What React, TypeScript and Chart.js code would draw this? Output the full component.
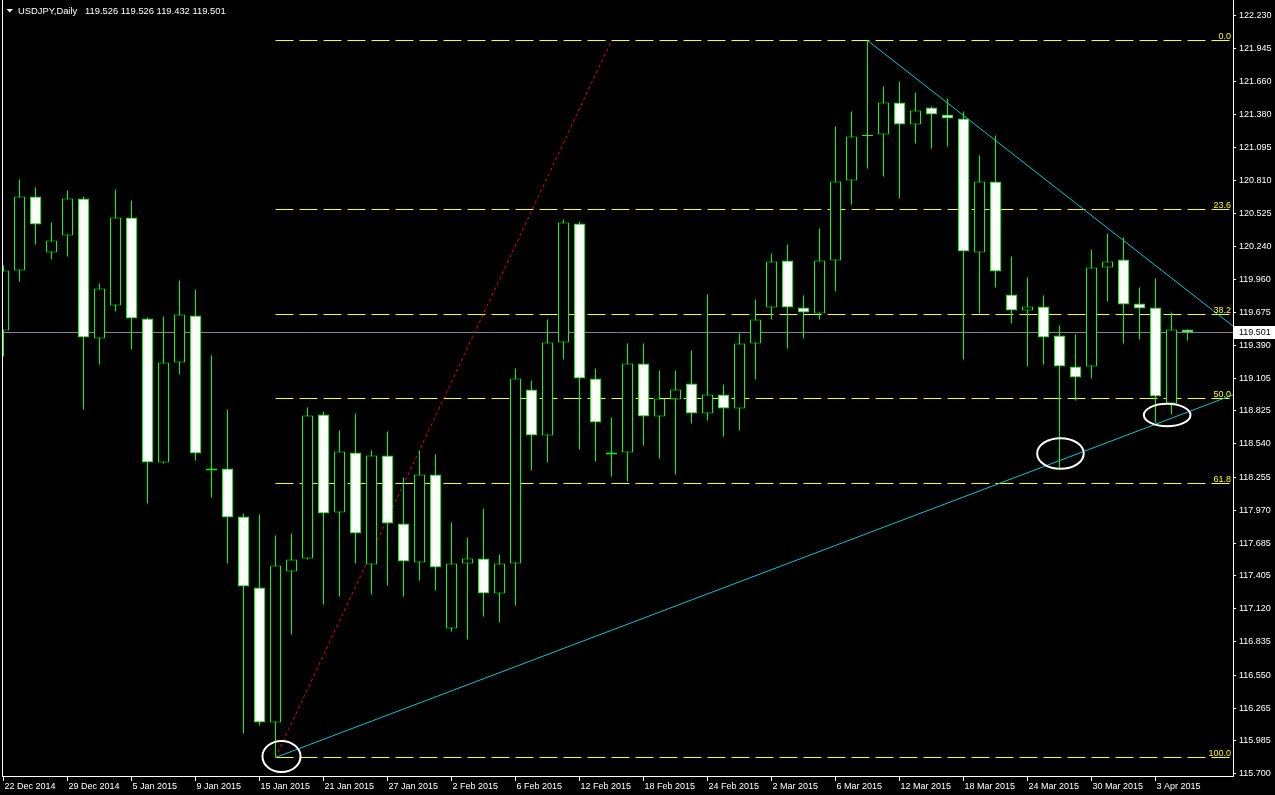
import { useEffect, useRef } from "react";
import { Chart, registerables } from "chart.js";

Chart.register(...registerables);

// ---------- DATA ----------
const symbol = "USDJPY";
const period = "Daily";

const dates = [
  "22 Dec 2014","23 Dec 2014","24 Dec 2014","26 Dec 2014","29 Dec 2014","30 Dec 2014","31 Dec 2014",
  "2 Jan 2015","5 Jan 2015","6 Jan 2015","7 Jan 2015","8 Jan 2015","9 Jan 2015","12 Jan 2015","13 Jan 2015",
  "14 Jan 2015","15 Jan 2015","16 Jan 2015","19 Jan 2015","20 Jan 2015","21 Jan 2015","22 Jan 2015","23 Jan 2015",
  "26 Jan 2015","27 Jan 2015","28 Jan 2015","29 Jan 2015","30 Jan 2015",
  "2 Feb 2015","3 Feb 2015","4 Feb 2015","5 Feb 2015","6 Feb 2015","9 Feb 2015","10 Feb 2015","11 Feb 2015",
  "12 Feb 2015","13 Feb 2015","16 Feb 2015","17 Feb 2015","18 Feb 2015","19 Feb 2015","20 Feb 2015","23 Feb 2015",
  "24 Feb 2015","25 Feb 2015","26 Feb 2015","27 Feb 2015",
  "2 Mar 2015","3 Mar 2015","4 Mar 2015","5 Mar 2015","6 Mar 2015","9 Mar 2015","10 Mar 2015","11 Mar 2015",
  "12 Mar 2015","13 Mar 2015","16 Mar 2015","17 Mar 2015","18 Mar 2015","19 Mar 2015","20 Mar 2015","23 Mar 2015",
  "24 Mar 2015","25 Mar 2015","26 Mar 2015","27 Mar 2015","30 Mar 2015","31 Mar 2015",
  "1 Apr 2015","2 Apr 2015","3 Apr 2015","6 Apr 2015","7 Apr 2015",
];

const opens = [
  119.517,120.034,120.671,120.189,120.335,120.654,119.448,119.733,120.490,119.621,
  118.381,119.242,119.646,118.312,118.329,117.916,117.304,116.142,117.442,117.554,
  118.794,117.950,118.467,117.502,118.441,117.855,117.519,118.277,116.951,117.511,
  117.554,117.252,117.511,119.009,118.613,119.414,120.439,119.104,118.449,118.467,
  119.233,118.777,118.923,119.061,118.802,118.966,118.846,119.405,119.715,120.120,
  119.715,119.664,120.120,120.809,121.192,121.205,121.481,121.291,121.438,121.378,
  121.343,120.189,120.801,119.827,119.690,119.724,119.474,119.207,119.207,120.060,
  120.129,119.750,119.715,118.889,119.526,
];
const highs = [
  120.077,120.818,120.749,120.447,120.723,120.671,119.922,120.732,120.637,119.629,
  119.638,119.948,119.870,119.302,118.837,117.941,117.933,117.752,117.769,118.854,
  118.820,118.656,118.802,118.484,118.648,118.251,118.484,118.449,117.864,117.735,
  117.984,117.588,119.190,119.087,119.612,120.473,120.456,119.190,118.768,119.405,
  119.405,119.173,119.173,119.345,119.827,119.052,119.492,119.784,120.180,120.258,
  119.819,120.396,121.274,121.403,122.015,121.619,121.662,121.567,121.446,121.515,
  121.403,121.024,121.197,120.155,119.974,119.819,119.560,119.483,120.215,120.353,
  120.318,119.888,119.965,119.672,119.526,
];
const lows = [
  119.293,119.939,120.258,120.129,120.155,118.837,119.225,119.681,119.354,118.027,
  118.372,119.138,118.398,118.079,117.511,116.047,116.116,115.840,116.899,117.545,
  117.158,117.227,117.511,117.244,117.321,117.227,117.364,117.278,116.925,116.856,
  117.054,117.003,117.149,118.312,118.381,119.268,118.492,118.389,118.260,118.217,
  118.527,118.415,118.277,118.716,118.742,118.604,118.656,119.095,119.612,119.362,
  119.448,119.612,119.853,120.602,120.912,120.844,120.654,121.128,121.085,121.102,
  119.268,119.664,119.888,119.578,119.207,119.225,118.320,118.915,119.104,119.767,
  119.405,119.440,118.725,118.794,119.432,
];
const closes = [
  120.034,120.671,120.430,120.292,120.654,119.457,119.879,120.490,119.621,118.381,
  119.242,119.655,118.458,118.329,117.907,117.313,116.142,117.494,117.545,118.785,
  117.941,118.475,117.769,118.441,117.855,117.528,118.277,117.476,117.511,117.554,
  117.252,117.511,119.104,118.613,119.414,120.447,119.104,118.725,118.467,119.233,
  118.777,118.932,119.009,118.802,118.966,118.846,119.405,119.612,120.112,119.715,
  119.672,120.120,120.801,121.188,121.201,121.481,121.291,121.412,121.378,121.343,
  120.198,120.801,120.025,119.690,119.724,119.457,119.207,119.113,120.060,120.112,
  119.741,119.707,118.949,119.526,119.501,
];

const priceTickLabels = [
  "122.230","121.945","121.660","121.380","121.095","120.810","120.525","120.240",
  "119.960","119.675","119.390","119.105","118.825","118.540","118.255","117.970",
  "117.685","117.405","117.120","116.835","116.550","116.265","115.985","115.700",
];
const dateLabelEvery = 4;

// Fibonacci retracement (anchors: index, price)
const fibLevels = [0, 23.6, 38.2, 50, 61.8, 100];
const fibLowIndex = 17;
const fibLow = 115.84;
const fibHighIndex = 38;
const fibHigh = 122.015;

// trend lines: [index, price] anchor pairs (rays to the right)
const upperTrend = [[54, 122.015], [70, 120.292]];
const lowerTrend = [[17, 115.84], [73, 118.762]];

// highlight ellipses: [centerIndex, centerPrice, radiusIndex, radiusPrice]
const ellipses = [
  [17.375, 115.849, 1.19, 0.1335],
  [66.06, 118.458, 1.456, 0.132],
  [72.73, 118.79, 1.456, 0.0965],
];

// ---------- STYLE ----------
const FONT = "'Liberation Sans', Arial, sans-serif";
const X_MIN = -0.09375;
const X_MAX = 76.84375;
const Y_MAX = 122.3635;
const Y_MIN = 115.6807;

function rayEnd(a: number[], b: number[], xEnd: number) {
  const slope = (b[1] - a[1]) / (b[0] - a[0]);
  return { x: xEnd, y: a[1] + slope * (xEnd - a[0]) };
}

const crisp = (v: number) => Math.floor(v) + 0.5;

const overlayPlugin = {
  id: "mtOverlay",
  beforeDraw(chart: any) {
    const { ctx, width, height } = chart;
    ctx.save();
    ctx.fillStyle = "#000000";
    ctx.fillRect(0, 0, width, height);
    ctx.restore();
  },
  beforeDatasetsDraw(chart: any) {
    const { ctx, chartArea: a, scales } = chart;
    const x = scales.x, y = scales.y;
    ctx.save();
    // bid line
    const by = crisp(y.getPixelForValue(closes[closes.length - 1]));
    ctx.strokeStyle = "#778899";
    ctx.lineWidth = 1;
    ctx.beginPath();
    ctx.moveTo(a.left, by);
    ctx.lineTo(a.right, by);
    ctx.stroke();
    // fib levels
    const range = fibHigh - fibLow;
    const x0 = x.getPixelForValue(fibLowIndex);
    ctx.strokeStyle = "#ffff00";
    ctx.setLineDash([18, 6]);
    for (const lvl of fibLevels) {
      const py = crisp(y.getPixelForValue(fibHigh - (range * lvl) / 100));
      ctx.beginPath();
      ctx.moveTo(x0, py);
      ctx.lineTo(a.right - 3, py);
      ctx.stroke();
    }
    ctx.setLineDash([]);
    ctx.restore();
  },
  afterDatasetsDraw(chart: any) {
    const { ctx, chartArea: a, scales } = chart;
    const x = scales.x, y = scales.y;
    ctx.save();
    // left frame line
    ctx.fillStyle = "#ffffff";
    ctx.fillRect(a.left, 0, 1, a.bottom + 1);
    // ellipses
    ctx.strokeStyle = "#ffffff";
    ctx.lineWidth = 2;
    for (const [ci, cp, ri, rp] of ellipses) {
      const cx = x.getPixelForValue(ci);
      const cy = y.getPixelForValue(cp);
      const rx = Math.abs(x.getPixelForValue(ci + ri) - cx);
      const ry = Math.abs(y.getPixelForValue(cp + rp) - cy);
      ctx.beginPath();
      ctx.ellipse(cx, cy, rx, ry, 0, 0, Math.PI * 2);
      ctx.stroke();
    }
    // fib labels
    const range = fibHigh - fibLow;
    ctx.font = `9px ${FONT}`;
    ctx.fillStyle = "#ffff00";
    ctx.textAlign = "right";
    ctx.textBaseline = "alphabetic";
    for (const lvl of fibLevels) {
      const py = crisp(y.getPixelForValue(fibHigh - (range * lvl) / 100));
      ctx.fillText(lvl.toFixed(1), a.right - 2, py - 2);
    }
    // header
    const n = closes.length - 1;
    ctx.fillStyle = "#ffffff";
    ctx.beginPath();
    ctx.moveTo(6.5, 9);
    ctx.lineTo(13, 9);
    ctx.lineTo(9.75, 12.5);
    ctx.closePath();
    ctx.fill();
    ctx.textAlign = "left";
    ctx.textBaseline = "middle";
    ctx.font = `9.4px ${FONT}`;
    ctx.fillText(
      `${symbol},${period}   ${opens[n].toFixed(3)} ${highs[n].toFixed(3)} ${lows[n].toFixed(3)} ${closes[n].toFixed(3)}`,
      18,
      11
    );
    // bid price box
    ctx.font = `9px ${FONT}`;
    const by = crisp(y.getPixelForValue(closes[n]));
    ctx.fillStyle = "#ffffff";
    ctx.fillRect(a.right + 1, by - 6.5, chart.width - a.right - 1, 13);
    ctx.fillStyle = "#000000";
    ctx.fillText(closes[n].toFixed(3), a.right + 6, by + 0.5);
    ctx.restore();
  },
};

export default function App() {
  const ref = useRef<HTMLCanvasElement>(null);

  useEffect(() => {
    const canvas = ref.current;
    if (!canvas) return;
    const idx = dates.map((_, i) => i);
    const bodyData = idx.map((i) => ({ x: i, y: [opens[i], closes[i]] }));
    const wickData = idx.map((i) => ({ x: i, y: [lows[i], highs[i]] }));
    const bodyFill = idx.map((i) => (closes[i] >= opens[i] ? "#000000" : "#ffffff"));

    const upper = [{ x: upperTrend[0][0], y: upperTrend[0][1] }, rayEnd(upperTrend[0], upperTrend[1], X_MAX)];
    const lower = [{ x: lowerTrend[0][0], y: lowerTrend[0][1] }, rayEnd(lowerTrend[0], lowerTrend[1], X_MAX)];
    const fibDiag = [
      { x: fibLowIndex, y: fibLow },
      { x: fibHighIndex, y: fibHigh },
    ];

    const chart = new Chart(canvas, {
      type: "bar",
      data: {
        datasets: [
          {
            type: "bar",
            label: "body",
            data: bodyData as any,
            backgroundColor: bodyFill,
            borderColor: "#00ff00",
            borderWidth: 1,
            borderSkipped: false,
            barThickness: 11,
            grouped: false,
            inflateAmount: 0,
            order: 0,
          } as any,
          {
            type: "bar",
            label: "wick",
            data: wickData as any,
            backgroundColor: "#00ff00",
            borderWidth: 0,
            barThickness: 1,
            grouped: false,
            inflateAmount: 0,
            order: 1,
          } as any,
          {
            type: "line",
            label: "fibDiag",
            data: fibDiag,
            borderColor: "#ff0000",
            borderWidth: 1,
            borderDash: [3, 3],
            pointRadius: 0,
            fill: false,
            order: 2,
          } as any,
          {
            type: "line",
            label: "upper",
            data: upper,
            borderColor: "#00c8d8",
            borderWidth: 1,
            pointRadius: 0,
            fill: false,
            order: 3,
          } as any,
          {
            type: "line",
            label: "lower",
            data: lower,
            borderColor: "#00c8d8",
            borderWidth: 1,
            pointRadius: 0,
            fill: false,
            order: 4,
          } as any,
        ],
      },
      options: {
        animation: false,
        responsive: false,
        maintainAspectRatio: false,
        layout: { padding: { left: 2, top: 0, right: 0, bottom: 0 } },
        plugins: { legend: { display: false }, tooltip: { enabled: false } },
        scales: {
          x: {
            type: "linear",
            min: X_MIN,
            max: X_MAX,
            offset: false,
            grid: { display: true, offset: false, drawOnChartArea: false, drawTicks: true, tickLength: 5, color: "#ffffff" },
            border: { display: true, color: "#ffffff" },
            ticks: {
              color: "#ffffff",
              font: { family: FONT, size: 9 },
              align: "start",
              labelOffset: 1,
              padding: 0,
              autoSkip: false,
              maxRotation: 0,
              minRotation: 0,
              callback: (v: any) => dates[Math.round(Number(v))] ?? "",
            },
            afterBuildTicks: (s: any) => {
              s.ticks = dates
                .map((_, i) => i)
                .filter((i) => i % dateLabelEvery === 0)
                .map((v) => ({ value: v }));
            },
            afterFit: (s: any) => {
              s.height = 19;
              s.paddingLeft = 0;
              s.paddingRight = 0;
            },
          },
          y: {
            type: "linear",
            position: "right",
            min: Y_MIN,
            max: Y_MAX,
            grid: { display: true, drawOnChartArea: false, drawTicks: true, tickLength: 3, color: "#ffffff" },
            border: { display: true, color: "#ffffff" },
            ticks: {
              color: "#ffffff",
              font: { family: FONT, size: 9 },
              padding: 3,
              autoSkip: false,
              callback: (v: any) => Number(v).toFixed(3),
            },
            afterBuildTicks: (s: any) => {
              s.ticks = priceTickLabels.map((t) => ({ value: parseFloat(t) }));
            },
            afterFit: (s: any) => {
              s.width = 42;
              s.paddingTop = 0;
              s.paddingBottom = 0;
            },
          },
        },
      } as any,
      plugins: [overlayPlugin],
    });
    return () => chart.destroy();
  }, []);

  return (
    <div style={{ position: "fixed", left: 0, top: 0, width: 1275, height: 795, background: "#000" }}>
      <canvas ref={ref} width={1275} height={795} style={{ display: "block", width: 1275, height: 795 }} />
    </div>
  );
}
